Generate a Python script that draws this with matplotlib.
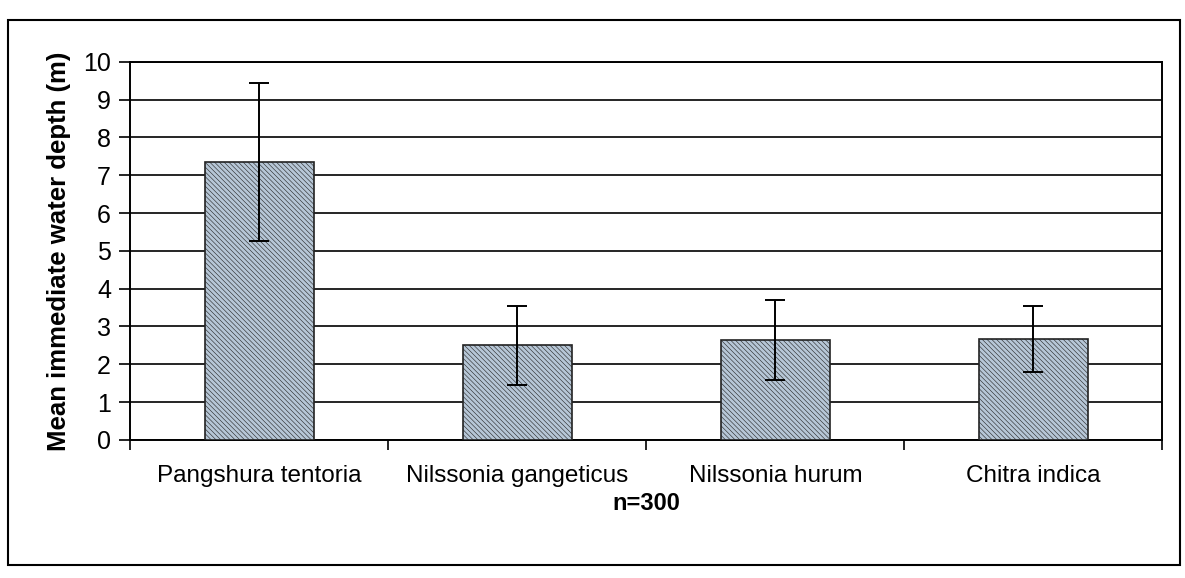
import numpy as np
import matplotlib.pyplot as plt
from matplotlib.patches import Rectangle

# Dados
especies = ["Pangshura tentoria", "Nilssonia gangeticus",
            "Nilssonia hurum", "Chitra indica"]
profundidade_media = [7.35, 2.5, 2.64, 2.67]
desvio = [2.08, 1.05, 1.05, 0.87]

plt.rcParams["font.family"] = ["Liberation Sans", "DejaVu Sans"]
plt.rcParams["hatch.color"] = "#8795a4"
plt.rcParams["hatch.linewidth"] = 0.4

fig = plt.figure(figsize=(11.85, 5.78), dpi=100)
fig.patch.set_facecolor("white")

# Moldura externa do gráfico
fig.patches.append(Rectangle((0.007, 0.022), 0.989, 0.943,
                             transform=fig.transFigure, fill=False,
                             edgecolor="black", linewidth=1.5))

ax = fig.add_axes([0.110, 0.239, 0.871, 0.654])
x = np.arange(len(especies))

ax.bar(x, profundidade_media, width=0.42, color="#b6c6d6",
       edgecolor="#222222", linewidth=1.2, hatch="\\" * 7, zorder=3)
ax.errorbar(x, profundidade_media, yerr=desvio, fmt="none",
            ecolor="black", elinewidth=1.4, capsize=7, capthick=1.4,
            zorder=4)

ax.set_xlim(-0.5, len(especies) - 0.5)
ax.set_ylim(0, 10)
ax.set_yticks(np.arange(0, 11, 1))
ax.yaxis.grid(True, color="black", linewidth=1.2, zorder=1)
ax.set_axisbelow(True)

# Marcas do eixo x entre as categorias
ax.set_xticks(np.arange(-0.5, len(especies) + 0.5, 1))
ax.set_xticklabels([])
ax.set_xticks(x, minor=True)
ax.set_xticklabels(especies, minor=True, fontsize=17.5)
ax.tick_params(axis="x", which="minor", length=0, pad=18)
ax.tick_params(axis="x", which="major", length=7, width=1.2,
               direction="out")
ax.tick_params(axis="y", length=8, width=1.2, direction="out",
               labelsize=18, pad=6)

for lado in ["left", "right", "top", "bottom"]:
    ax.spines[lado].set_linewidth(1.4)
    ax.spines[lado].set_color("black")

ax.set_xlabel("n=300", fontsize=17, fontweight="bold", labelpad=4)
ax.set_ylabel("Mean immediate water depth (m)", fontsize=18.5,
              fontweight="bold", labelpad=9)

fig.savefig("out.png", dpi=100, facecolor="white")
